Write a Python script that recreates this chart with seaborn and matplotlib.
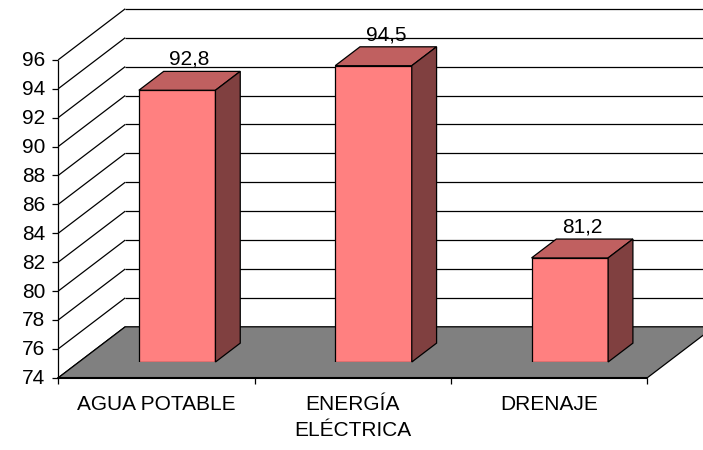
import numpy as np
import matplotlib
matplotlib.use("Agg")
import matplotlib.pyplot as plt
import seaborn as sns
from matplotlib.patches import Polygon
from matplotlib.transforms import offset_copy

categories = ["AGUA POTABLE", "ENERGÍA\nELÉCTRICA", "DRENAJE"]
values = [92.8, 94.5, 81.2]
value_labels = ["92,8", "94,5", "81,2"]
yticks = list(range(74, 97, 2))
YMIN, YMAX = 74, 96

sns.set_theme(style="white")
plt.rcParams["font.family"] = ["Liberation Sans", "DejaVu Sans"]
FS = 15

W, H = 703, 450
fig = plt.figure(figsize=(W / 100, H / 100), dpi=100)
fig.patch.set_facecolor("white")
# axes = plane of the bar fronts
ax = fig.add_axes([79 / W, 88 / H, 589 / W, 318 / H])
ax.set_facecolor("none")

sns.barplot(x=list(range(3)), y=values, width=0.39, color="#FF8080",
            saturation=1, edgecolor="black", linewidth=0.9, ax=ax, zorder=5)
ax.set_xlim(-0.5, 2.5)
ax.set_ylim(YMIN, YMAX)
for s in ax.spines.values():
    s.set_visible(False)
ax.set_xticks([])
ax.set_yticks([])
ax.set_xlabel("")
ax.set_ylabel("")

# depth geometry (data units)
DX, DY = 67 / 196.3, 51 / 14.45
f = 0.31
fdx, fdy = -f * DX, -f * DY          # front plane offset
bdx, bdy = (1 - f) * DX, (1 - f) * DY  # back plane offset
cdx, cdy = 0.37 * DX, 0.37 * DY      # bar depth

lk = dict(color="black", lw=0.9, clip_on=False, solid_capstyle="butt")
# back wall gridlines + left wall diagonals
for t in yticks:
    ax.plot([-0.5 + fdx, -0.5 + bdx], [t + fdy, t + bdy], zorder=1, **lk)
    ax.plot([-0.5 + bdx, 2.5 + bdx + 0.2], [t + bdy, t + bdy], zorder=1, **lk)
    ax.plot([-0.5 + fdx - 6 / 196.3, -0.5 + fdx], [t + fdy, t + fdy], zorder=1, **lk)

# floor
floor = Polygon([(-0.5 + fdx, YMIN + fdy), (2.5 + fdx, YMIN + fdy),
                 (2.5 + bdx, YMIN + bdy), (-0.5 + bdx, YMIN + bdy)],
                closed=True, facecolor="#808080", edgecolor="black", lw=0.9,
                clip_on=False, zorder=2)
ax.add_patch(floor)
ax.plot([-0.5 + fdx, 2.5 + fdx], [YMIN + fdy, YMIN + fdy], zorder=3,
        color="black", lw=1.5, clip_on=False)
# front vertical axis
ax.plot([-0.5 + fdx, -0.5 + fdx], [YMIN + fdy, YMAX + fdy], zorder=3, **lk)
# category ticks
for xb in [-0.5, 0.5, 1.5, 2.5]:
    ax.plot([xb + fdx, xb + fdx], [YMIN + fdy, YMIN + fdy - 6 / 14.45], zorder=3, **lk)

# y tick labels
tl = offset_copy(ax.transData, fig=fig, x=-13, y=-1, units="dots")
for t in yticks:
    ax.text(-0.5 + fdx, t + fdy, str(t), transform=tl, ha="right", va="center",
            fontsize=FS, color="black")

# category labels
cl = offset_copy(ax.transData, fig=fig, x=0, y=-17, units="dots")
for i, c in enumerate(categories):
    ax.text(i + fdx, YMIN + fdy, c, transform=cl, ha="center", va="top",
            fontsize=FS, color="black", linespacing=1.45)

# 3D bar top/side
for p, v, lab in zip(ax.patches, values, value_labels):
    p.set_y(YMIN)
    p.set_height(v - YMIN)
    x0, w = p.get_x(), p.get_width()
    top = v
    ax.add_patch(Polygon([(x0, top), (x0 + w, top), (x0 + w + cdx, top + cdy),
                          (x0 + cdx, top + cdy)], closed=True,
                         facecolor="#C06060", edgecolor="black", lw=0.9,
                         zorder=5, clip_on=False))
    ax.add_patch(Polygon([(x0 + w, YMIN), (x0 + w + cdx, YMIN + cdy),
                          (x0 + w + cdx, top + cdy), (x0 + w, top)], closed=True,
                         facecolor="#804040", edgecolor="black", lw=0.9,
                         zorder=5, clip_on=False))
    ax.text(x0 + w / 2 + cdx / 2, top + cdy + 0.45, lab, ha="center",
            va="baseline", fontsize=FS, color="black", zorder=6)

fig.savefig("out.png", dpi=100)
